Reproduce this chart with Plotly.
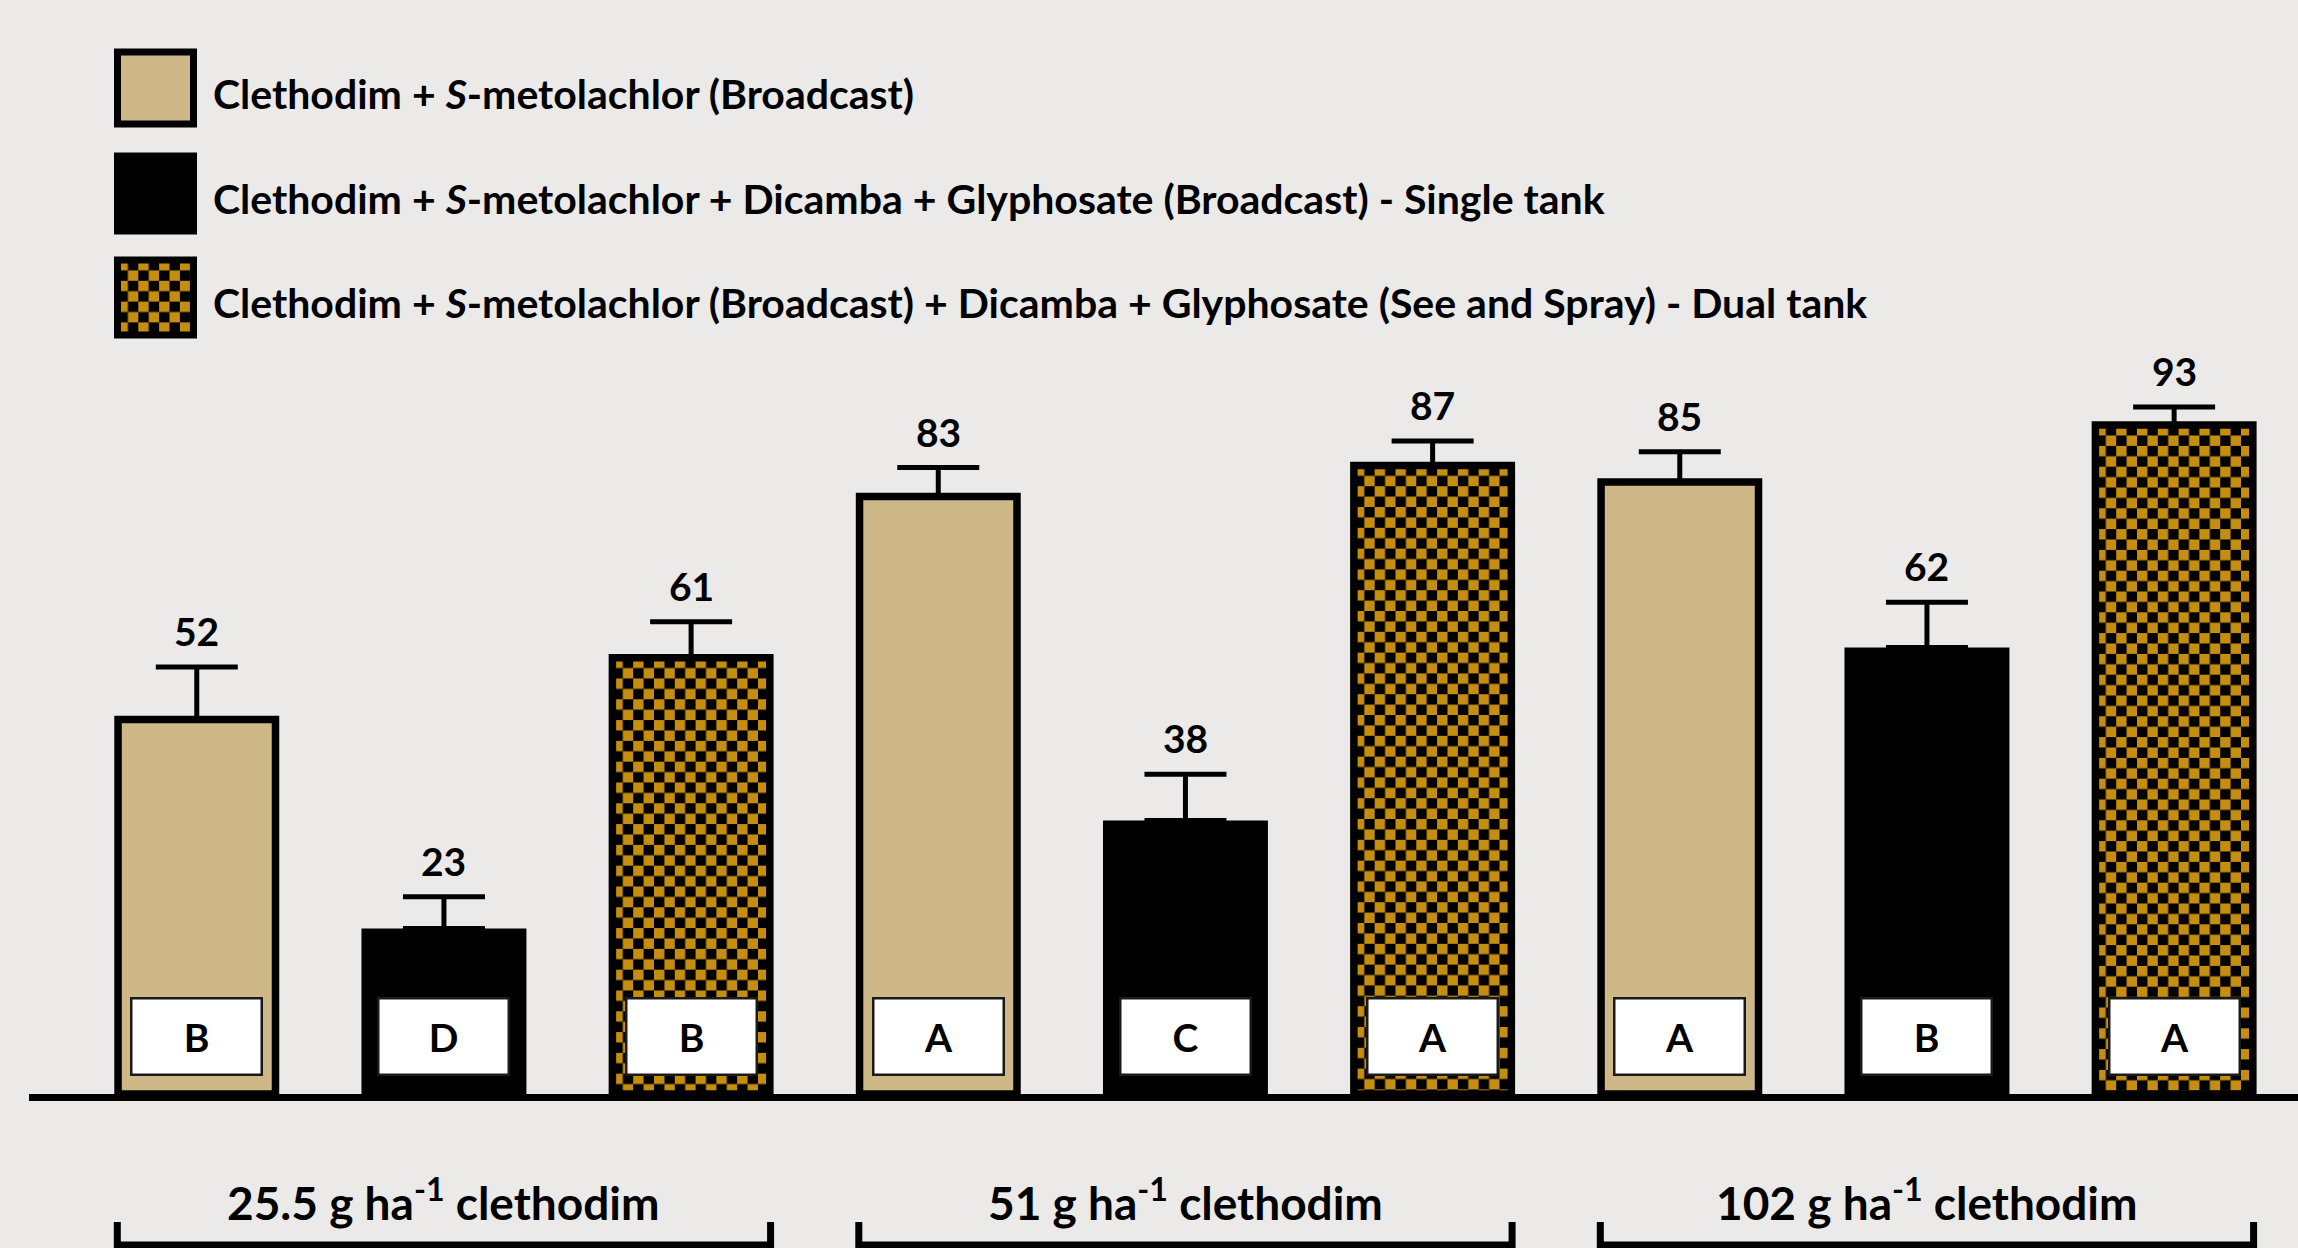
import base64
import plotly.graph_objects as go

# ---------------- data ----------------
group_labels = ["25.5 g ha<sup>-1</sup> clethodim",
                "51 g ha<sup>-1</sup> clethodim",
                "102 g ha<sup>-1</sup> clethodim"]
series_names = ["Clethodim + <i>S</i>-metolachlor (Broadcast)",
                "Clethodim + <i>S</i>-metolachlor + Dicamba + Glyphosate (Broadcast) - Single tank",
                "Clethodim + <i>S</i>-metolachlor (Broadcast) + Dicamba + Glyphosate (See and Spray) - Dual tank"]
broadcast = [52, 83, 85]
single_tank = [23, 38, 62]
dual_tank = [60.6, 87.3, 92.9]
broadcast_err = [7.3, 4.0, 4.2]
single_err = [4.4, 6.4, 6.3]
dual_err = [5.0, 3.4, 2.5]
broadcast_letters = ["B", "A", "A"]
single_letters = ["D", "C", "B"]
dual_letters = ["B", "A", "A"]

# ---------------- styling / layout ----------------
W, H = 2298, 1248
ML, MR, MT, MB = 29, 0, 0, 154
PLOT_W = W - ML - MR
PLOT_H = H - MT - MB
X_RANGE = [-0.5596, 2.5004]
Y_RANGE = [0, 151.94]
PX_X = PLOT_W / (X_RANGE[1] - X_RANGE[0])
PX_Y = PLOT_H / (Y_RANGE[1] - Y_RANGE[0])
GROUPGAP = 0.363
BW = (1 / 3) * (1 - GROUPGAP)          # bar width in data units
BG = "#EBEAE8"
TAN = "#CFB887"
GOLD = "#C68E10"
FONT = "Lato"
OUTLINE = 7.5


def xpx(xd):
    return ML + (xd - X_RANGE[0]) * PX_X


def xp(px):
    return (px - ML) / PLOT_W


def yp(py):
    return (H - MB - py) / PLOT_H


def checker_uri(wpx, hpx, sq=10.4, light=GOLD, dark="#000000"):
    svg = (f'<svg xmlns="http://www.w3.org/2000/svg" width="{wpx:.2f}" height="{hpx:.2f}" '
           f'viewBox="0 0 {wpx:.2f} {hpx:.2f}" preserveAspectRatio="none">'
           f'<defs><pattern id="c" x="0" y="0" width="{2*sq}" height="{2*sq}" patternUnits="userSpaceOnUse">'
           f'<rect width="{2*sq}" height="{2*sq}" fill="{dark}"/>'
           f'<rect width="{sq}" height="{sq}" fill="{light}"/>'
           f'<rect x="{sq}" y="{sq}" width="{sq}" height="{sq}" fill="{light}"/>'
           '</pattern></defs>'
           f'<rect width="{wpx:.2f}" height="{hpx:.2f}" fill="url(#c)"/></svg>')
    return "data:image/svg+xml;base64," + base64.b64encode(svg.encode()).decode()


xs = list(range(len(group_labels)))
values = [broadcast, single_tank, dual_tank]
errs = [broadcast_err, single_err, dual_err]
letters = [broadcast_letters, single_letters, dual_letters]
fills = [TAN, "#000000", "rgba(0,0,0,0)"]
outlines = [OUTLINE, 0, OUTLINE]
widths = [None, BW + OUTLINE / PX_X, None]

fig = go.Figure()
for j in range(3):
    fig.add_trace(go.Bar(
        x=xs, y=values[j], name=series_names[j], showlegend=False,
        width=widths[j],
        marker=dict(color=fills[j], line=dict(color="#000000", width=outlines[j])),
        error_y=dict(type="data", array=errs[j], arrayminus=[0] * len(xs), symmetric=False,
                     color="#000000", thickness=5, width=41),
        hoverinfo="skip",
    ))

images = []
annotations = []
shapes = []

# checkerboard fills for dual-tank bars
for i, v in enumerate(dual_tank):
    x0 = xs[i] + 1 / 3 - BW / 2
    images.append(dict(source=checker_uri(BW * PX_X, v * PX_Y), xref="x", yref="y",
                       x=x0, y=v, sizex=BW, sizey=v, xanchor="left", yanchor="top",
                       sizing="stretch", layer="below"))

# value labels and letter boxes
for j in range(3):
    for i in xs:
        xc = i + (j - 1) / 3
        annotations.append(dict(x=xc, y=values[j][i] + errs[j][i], xref="x", yref="y",
                                text=f"<b>{int(values[j][i] + 0.5)}</b>", showarrow=False,
                                yanchor="bottom", yshift=11,
                                font=dict(family=FONT, size=39, color="#000000")))
        annotations.append(dict(x=xc, y=7.99, xref="x", yref="y",
                                text=f"<b>{letters[j][i]}</b>", showarrow=False,
                                yanchor="middle", xanchor="center",
                                width=128, height=74, bgcolor="#FFFFFF",
                                bordercolor="#1a1a1a", borderwidth=2.5, borderpad=0,
                                valign="middle",
                                font=dict(family=FONT, size=39, color="#000000")))

# group labels and brackets
for i, lab in enumerate(group_labels):
    annotations.append(dict(x=i, y=yp(1199), xref="x", yref="paper", text=f"<b>{lab}</b>",
                            showarrow=False, yanchor="middle",
                            font=dict(family=FONT, size=46, color="#000000")))
    left = xp(xpx(i - 1 / 3 - BW / 2) - OUTLINE / 2 + 3)
    right = xp(xpx(i + 1 / 3 + BW / 2) + OUTLINE / 2 - 3)
    yt, yb = yp(1222), yp(1245)
    shapes.append(dict(type="path", xref="paper", yref="paper",
                       path=f"M {left},{yt} L {left},{yb} L {right},{yb} L {right},{yt}",
                       line=dict(color="#000000", width=7), layer="above"))

# custom legend
legend_rows = [(52, 124), (156, 231), (260, 335)]
lx0, lx1 = 117.5, 193.5
for k, (t, b) in enumerate(legend_rows):
    if k == 2:
        images.append(dict(source=checker_uri(lx1 - lx0, b - t), xref="paper", yref="paper",
                           x=xp(lx0), y=yp(t), sizex=xp(lx1) - xp(lx0), sizey=yp(t) - yp(b),
                           xanchor="left", yanchor="top", sizing="stretch", layer="above"))
    shapes.append(dict(type="rect", xref="paper", yref="paper",
                       x0=xp(lx0), x1=xp(lx1), y0=yp(b), y1=yp(t),
                       fillcolor=[TAN, "#000000", "rgba(0,0,0,0)"][k],
                       line=dict(color="#000000", width=7), layer="above"))
    annotations.append(dict(x=xp(211), y=yp((t + b) / 2 + 5), xref="paper", yref="paper",
                            text=f"<b>{series_names[k]}</b>", showarrow=False,
                            xanchor="left", yanchor="middle",
                            font=dict(family=FONT, size=41, color="#000000")))

fig.update_layout(
    width=W, height=H,
    margin=dict(l=ML, r=MR, t=MT, b=MB, pad=0),
    paper_bgcolor=BG, plot_bgcolor=BG,
    barmode="group", bargap=0, bargroupgap=GROUPGAP,
    xaxis=dict(range=X_RANGE, showgrid=False, zeroline=False, showticklabels=False,
               ticks="", showline=True, linewidth=7, linecolor="#000000", fixedrange=True),
    yaxis=dict(range=Y_RANGE, visible=False, showgrid=False, zeroline=False, fixedrange=True),
    images=images, annotations=annotations, shapes=shapes,
    font=dict(family=FONT),
    showlegend=False,
)

fig.write_html("out.html", config={"displayModeBar": False},
               post_script="document.body.style.margin='0';document.body.style.overflow='hidden';")
